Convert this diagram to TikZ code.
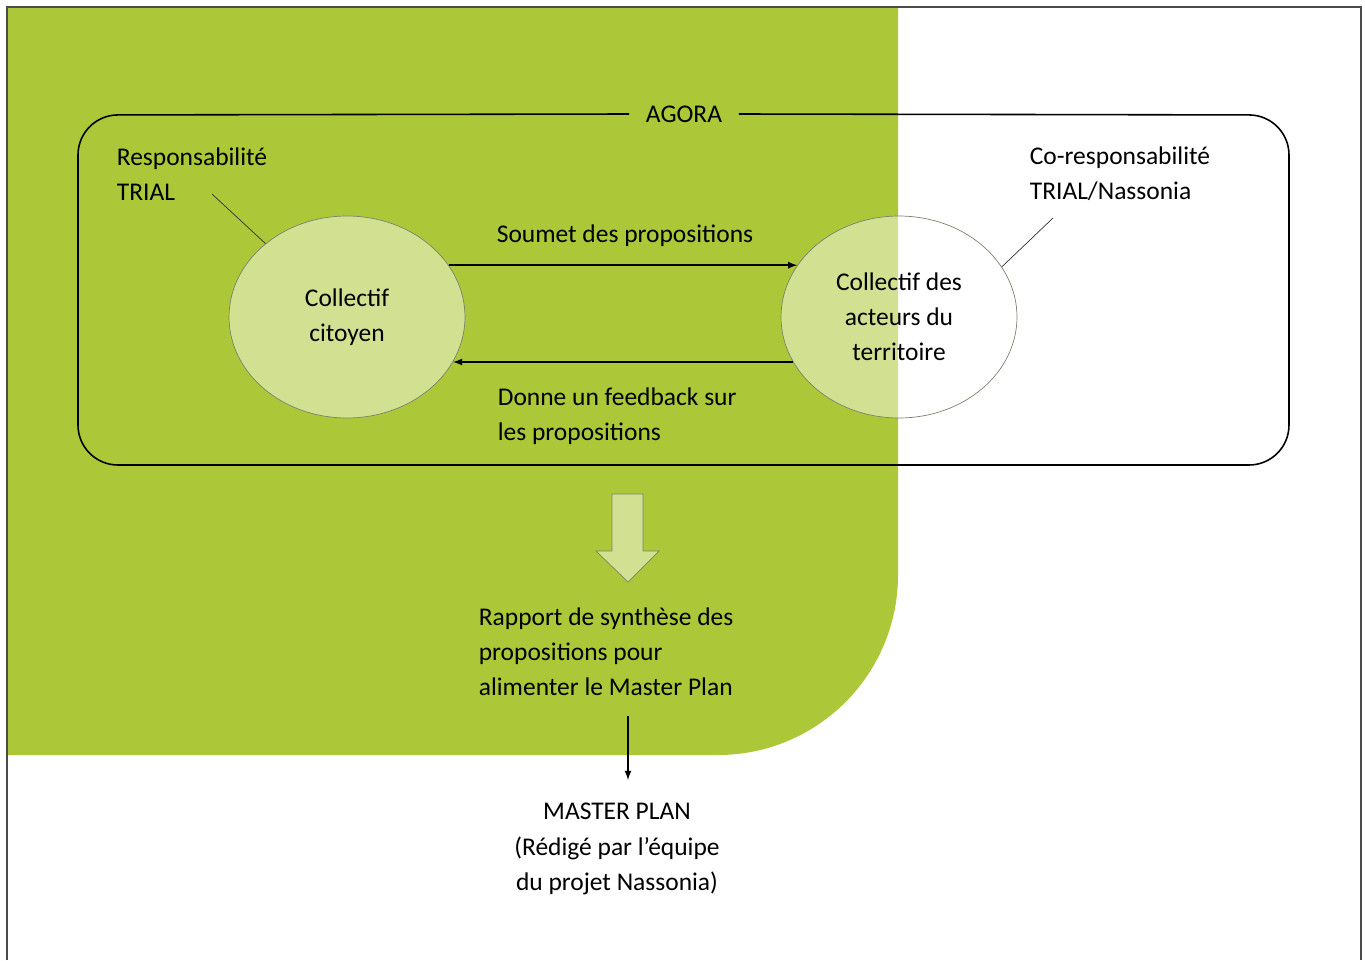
\documentclass[tikz,border=0pt]{standalone}
\usepackage{fontspec}
\setmainfont{Carlito}
\usepackage{xcolor}
\usepackage{tikz}
\usetikzlibrary{positioning}
\usetikzlibrary{shapes.geometric}
\usetikzlibrary{arrows}
\usetikzlibrary{calc}

\definecolor{agoragreen}{RGB}{172,200,56}
\definecolor{edgegray}{RGB}{125,130,110}

\begin{document}
\begin{tikzpicture}[x=0.02cm, y=-0.02cm,
	every node/.style={font=\fontsize{14.5}{20}\selectfont, inner sep=2pt},
	coll/.style={ellipse, draw=edgegray, fill=white, fill opacity=0.45, text opacity=1,
		minimum width=4.72cm, minimum height=4.04cm, align=center, inner sep=0pt},
	lab/.style={anchor=west, align=left},
	flow/.style={-latex, line width=0.8pt}]
\useasboundingbox (0,0) rectangle (1365,960);

% green background and page frame
\fill[agoragreen] (7,7) -- (898,7) [rounded corners=3.6cm] -- (898,755) [sharp corners] -- (7,755) -- cycle;
\draw[line width=0.9pt, black!70] (7,960) -- (7,7) -- (1361,7) -- (1361,960);

% agora frame
\node[inner xsep=0.33cm] (agora) at (684,114) {AGORA};
\draw[line width=0.9pt, rounded corners=0.8cm] (agora.west) -- (78,115) -- (78,465) -- (1289,465) -- (1289,115) -- (agora.east);

\node[coll] (coll0) at (347,317) {Collectif\\citoyen};
\node[coll] (coll1) at (899,317) {Collectif des\\acteurs du\\territoire};

\node[lab] (lab0) at (113,174) {Responsabilité\\TRIAL};
\node[lab] (lab1) at (1026,174) {Co-responsabilité\\TRIAL/Nassonia};

\coordinate (lead0) at (212,194);
\coordinate (lead1) at (1053,218);
\draw[black!80] (lead0) -- (coll0.138);
\draw[black!80] (lead1) -- (coll1.26);

\draw[flow] (coll0.27) -- (coll1.153);
\draw[flow] (coll1.203) -- (coll0.-23);
\node (soum) at (625,236) {Soumet des propositions};
\node[lab] (feed) at (494,416) {Donne un feedback sur\\les propositions};

% big arrow
\draw[edgegray, fill=white, fill opacity=0.45] (612,494) -- (643,494) -- (643,551) -- (659,551) -- (628,582) -- (596,551) -- (612,551) -- cycle;

\node[lab] (rap) at (475,652) {Rapport de synthèse des\\propositions pour\\alimenter le Master Plan};
\node[align=center] (master) at (617,849) {MASTER PLAN\\(Rédigé par l'équipe\\du projet Nassonia)};

\coordinate (mp0) at (628,716);
\coordinate (mp1) at (628,780);
\draw[flow] (mp0) -- (mp1);
\end{tikzpicture}
\end{document}
